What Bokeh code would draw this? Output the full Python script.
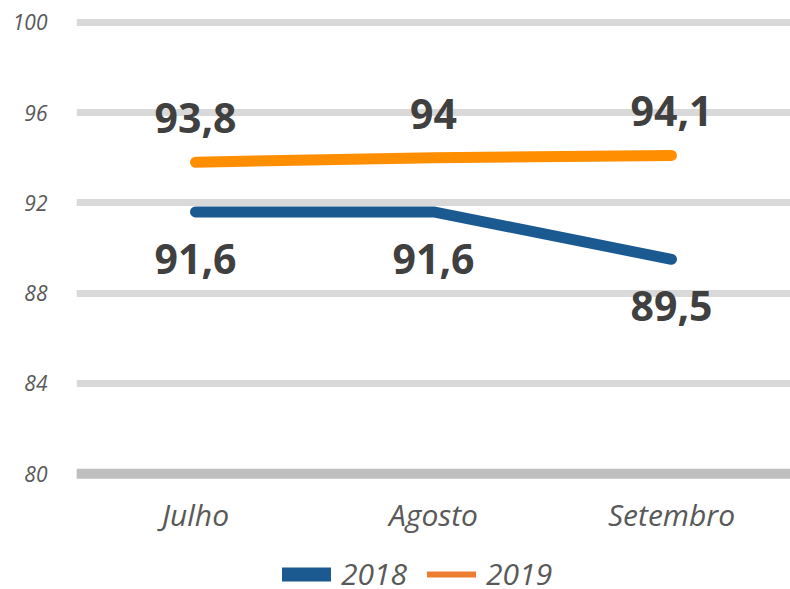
from bokeh.plotting import figure
from bokeh.layouts import column
from bokeh.models import ColumnDataSource, Legend, LegendItem, Span, FixedTicker, FactorRange, Range1d
from bokeh.core.properties import value
from bokeh.embed import file_html
from bokeh.resources import INLINE

months = ["Julho", "Agosto", "Setembro"]
v2018 = [91.6, 91.6, 89.5]
v2019 = [93.8, 94.0, 94.1]
y_ticks = [80, 84, 88, 92, 96, 100]
series_names = ["2018", "2019"]

def fmt(v):
    s = ("%.1f" % v).rstrip("0").rstrip(".")
    return s.replace(".", ",")

FONT = "Open Sans"
BLUE = "#1B5A91"
ORANGE = "#FF8F00"
ORANGE_LEG = "#ED7D31"

p = figure(frame_width=714, frame_height=465, x_range=FactorRange(*months), y_range=Range1d(79.7, 100.3),
           output_backend="svg", toolbar_location=None, min_border_left=76,
           min_border_right=0, min_border_top=15, min_border_bottom=50, outline_line_color=None)

p.ygrid.ticker = FixedTicker(ticks=y_ticks)
p.ygrid.grid_line_color = "#D9D9D9"
p.ygrid.grid_line_width = 7
p.xgrid.grid_line_color = None

base = Span(location=80, dimension="width", line_color="#BFBFBF", line_width=10)
p.add_layout(base)

p.yaxis.ticker = FixedTicker(ticks=y_ticks)
p.yaxis.axis_line_color = None
p.yaxis.major_tick_line_color = None
p.yaxis.minor_tick_line_color = None
p.yaxis.major_label_standoff = 23
p.yaxis.major_label_text_font = FONT
p.yaxis.major_label_text_font_style = "italic"
p.yaxis.major_label_text_font_size = "21px"
p.yaxis.major_label_text_color = "#595959"

p.xaxis.axis_line_color = None
p.xaxis.major_tick_line_color = None
p.xaxis.minor_tick_line_color = None
p.xaxis.major_label_standoff = 7
p.xaxis.major_label_text_font = FONT
p.xaxis.major_label_text_font_style = "italic"
p.xaxis.major_label_text_font_size = "30px"
p.xaxis.major_label_text_color = "#595959"

s18 = ColumnDataSource(dict(x=months, y=v2018, t=[fmt(v) for v in v2018]))
s19 = ColumnDataSource(dict(x=months, y=v2019, t=[fmt(v) for v in v2019]))

p.line("x", "y", source=s18, line_color=BLUE, line_width=11, line_cap="round", line_join="round")
p.line("x", "y", source=s19, line_color=ORANGE, line_width=11, line_cap="round", line_join="round")

p.text("x", "y", text="t", source=s19, text_align="center", text_baseline="middle", y_offset=-44,
       text_font=value(FONT), text_font_style="bold", text_font_size="41px", text_color="#404040")
p.text("x", "y", text="t", source=s18, text_align="center", text_baseline="middle", y_offset=47,
       text_font=value(FONT), text_font_style="bold", text_font_size="41px", text_color="#404040")

# legend strip below the chart
p2 = figure(width=790, height=59, x_range=Range1d(0, 1), y_range=Range1d(0, 1),
            x_axis_type=None, y_axis_type=None, output_backend="svg", toolbar_location=None,
            min_border=0, outline_line_color=None)
p2.xgrid.grid_line_color = None
p2.ygrid.grid_line_color = None

src18 = ColumnDataSource(dict(x=[5.0], y=[5.0]))
src19 = ColumnDataSource(dict(x=[5.0], y=[5.0]))
r18 = p2.line("x", "y", source=src18, line_color=BLUE, line_width=14, line_cap="round")
r19 = p2.line("x", "y", source=src19, line_color=ORANGE_LEG, line_width=6, line_cap="round")

legend = Legend(items=[LegendItem(label=series_names[0], renderers=[r18]),
                       LegendItem(label=series_names[1], renderers=[r19])],
                orientation="horizontal", location=(206, 2),
                label_text_font=FONT, label_text_font_style="italic", label_text_font_size="30px",
                label_text_color="#595959", glyph_width=49, label_standoff=10, spacing=20,
                border_line_color=None, background_fill_alpha=0, padding=0, margin=0)
p2.add_layout(legend, "center")

layout = column(p, p2, spacing=0)
open("out.html", "w").write(file_html(layout, INLINE))
